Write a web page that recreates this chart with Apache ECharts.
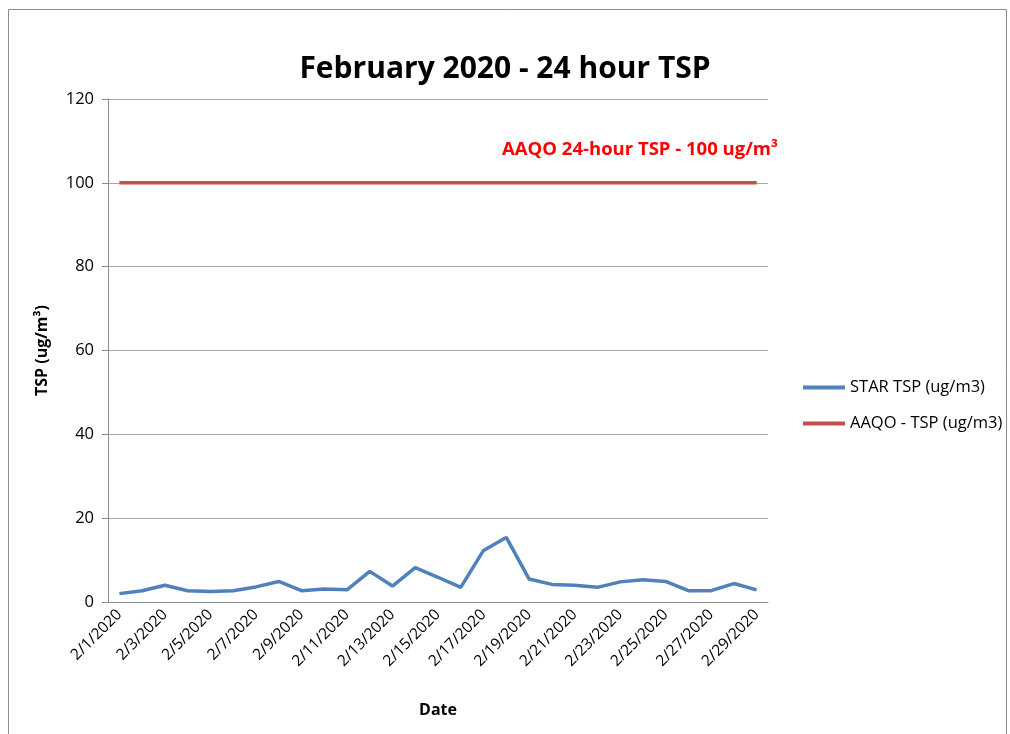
<!DOCTYPE html>
<html>
<head>
<meta charset="utf-8">
<script src="https://cdn.jsdelivr.net/npm/echarts@6/dist/echarts.min.js"></script>
<style>
  html, body { margin: 0; padding: 0; background: #fff; }
  #chart { width: 1010px; height: 734px; }
</style>
</head>
<body>
<div id="chart"></div>
<script>
// daily dates, Feb 2020
const dates = [
  "2/1/2020", "2/2/2020", "2/3/2020", "2/4/2020", "2/5/2020", "2/6/2020",
  "2/7/2020", "2/8/2020", "2/9/2020", "2/10/2020", "2/11/2020", "2/12/2020",
  "2/13/2020", "2/14/2020", "2/15/2020", "2/16/2020", "2/17/2020", "2/18/2020",
  "2/19/2020", "2/20/2020", "2/21/2020", "2/22/2020", "2/23/2020", "2/24/2020",
  "2/25/2020", "2/26/2020", "2/27/2020", "2/28/2020", "2/29/2020",
];
const starTsp = [
  2.0, 2.7, 4.0, 2.7, 2.5, 2.7, 3.6, 4.9, 2.7, 3.1, 2.9, 7.3, 3.8, 8.2, 5.9,
  3.5, 12.3, 15.4, 5.5, 4.2, 4.0, 3.5, 4.8, 5.3, 4.9, 2.7, 2.7, 4.4, 2.9,
];
const aaqoTsp = [
  100, 100, 100, 100, 100, 100, 100, 100, 100, 100, 100, 100, 100, 100, 100,
  100, 100, 100, 100, 100, 100, 100, 100, 100, 100, 100, 100, 100, 100,
];

const font = "'Open Sans', 'Noto Sans', sans-serif";

const chart = echarts.init(document.getElementById("chart"));

chart.setOption({
  animation: false,
  backgroundColor: "#fff",
  title: {
    text: "February 2020 - 24 hour TSP",
    left: "center",
    top: 49,
    textStyle: { fontFamily: font, fontSize: 30, fontWeight: "bold", color: "#000" },
  },
  graphic: [
    {
      type: "rect",
      shape: { x: 8.5, y: 9.5, width: 998, height: 740 },
      style: { fill: "none", stroke: "#8c8c8c", lineWidth: 1 },
      silent: true,
    },
    {
      type: "text",
      right: 232,
      top: 140,
      style: {
        text: "AAQO 24-hour TSP - 100 ug/m³",
        fill: "#ff0000",
        font: "bold 18.5px " + font,
      },
    },
  ],
  legend: {
    orient: "vertical",
    left: 798,
    top: 374,
    itemGap: 19,
    itemWidth: 42,
    itemHeight: 4,
    icon: "rect",
    textStyle: { fontFamily: font, fontSize: 16.5, color: "#000" },
    data: ["STAR TSP (ug/m3)", "AAQO - TSP (ug/m3)"],
  },
  grid: { left: 108, right: 242, top: 99, bottom: 132 },
  xAxis: {
    type: "category",
    data: dates,
    boundaryGap: true,
    name: "Date",
    nameLocation: "middle",
    nameGap: 100,
    nameTextStyle: { fontFamily: font, fontSize: 16, fontWeight: "bold", color: "#000" },
    axisLine: { lineStyle: { color: "#8c8c8c" } },
    axisTick: { interval: 1, length: 6, lineStyle: { color: "#8c8c8c" } },
    axisLabel: {
      interval: 1,
      rotate: 45,
      margin: 10,
      fontFamily: font,
      fontSize: 15.5,
      color: "#000",
    },
  },
  yAxis: {
    type: "value",
    min: 0,
    max: 120,
    interval: 20,
    name: "TSP (ug/m³)",
    nameLocation: "middle",
    nameGap: 58,
    nameTextStyle: { fontFamily: font, fontSize: 16, fontWeight: "bold", color: "#000" },
    axisLine: { show: true, lineStyle: { color: "#8c8c8c" } },
    axisTick: { show: true, inside: false, length: 6, lineStyle: { color: "#8c8c8c" } },
    axisLabel: { margin: 14, fontFamily: font, fontSize: 16.5, color: "#000" },
    splitLine: { lineStyle: { color: "#a6a6a6" } },
  },
  series: [
    {
      name: "STAR TSP (ug/m3)",
      type: "line",
      data: starTsp,
      symbol: "none",
      color: "#4f81bd",
      lineStyle: { width: 3.5 },
    },
    {
      name: "AAQO - TSP (ug/m3)",
      type: "line",
      data: aaqoTsp,
      symbol: "none",
      color: "#c0504d",
      lineStyle: { width: 3.5 },
    },
  ],
});
</script>
</body>
</html>
